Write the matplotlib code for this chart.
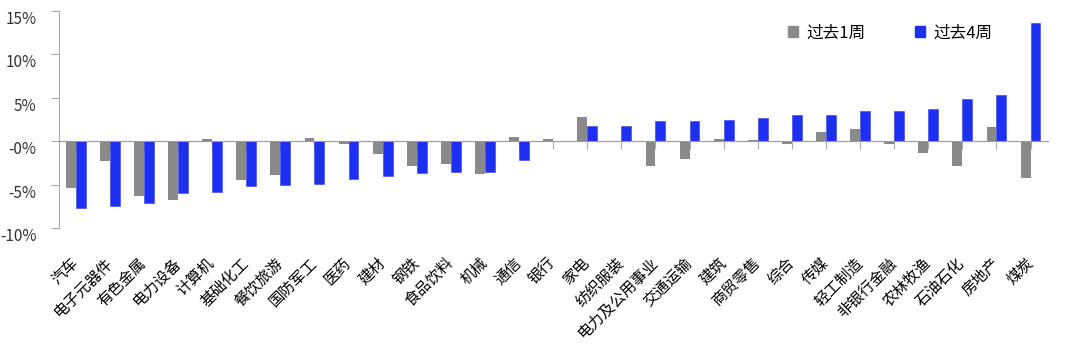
import matplotlib
matplotlib.use('Agg')
from matplotlib import pyplot as plt
from matplotlib.patches import Patch
import numpy as np

plt.rcParams['font.family'] = ['Noto Sans CJK SC', 'DejaVu Sans']

# 行业
industries = ['汽车', '电子元器件', '有色金属', '电力设备', '计算机', '基础化工', '餐饮旅游',
              '国防军工', '医药', '建材', '钢铁', '食品饮料', '机械', '通信', '银行', '家电',
              '纺织服装', '电力及公用事业', '交通运输', '建筑', '商贸零售', '综合', '传媒',
              '轻工制造', '非银行金融', '农林牧渔', '石油石化', '房地产', '煤炭']
# 过去1周 / 过去4周 涨跌幅 (%)
week1 = [-5.4, -2.3, -6.3, -6.8, 0.2, -4.5, -3.9, 0.35, -0.35, -1.5, -2.8, -2.6, -3.8,
         0.5, 0.27, 2.85, 0.05, -2.8, -2.0, 0.3, 0.1, -0.27, 1.07, 1.46, -0.35, -1.4,
         -2.8, 1.65, -4.2]
week4 = [-7.75, -7.5, -7.1, -5.95, -5.9, -5.15, -5.0, -4.9, -4.3, -4.0, -3.65, -3.6, -3.57,
         -2.2, 0.0, 1.8, 1.8, 2.3, 2.3, 2.4, 2.7, 3.0, 3.03, 3.46, 3.54, 3.7, 4.9, 5.3, 13.6]
yticks = [15, 10, 5, 0, -5, -10]
ytick_labels = ['15%', '10%', '5%', '-0%', '-5%', '-10%']

c1 = '#8a8a8a'
c4 = '#1c2ff2'

fig = plt.figure(figsize=(10.8, 3.47), dpi=100)
ax = fig.add_axes([0.0543, 0.343, 0.9157, 0.625])

x = np.arange(len(industries))
w = 0.29
ax.bar(x - w / 2, week1, width=w, color=c1, zorder=2)
ax.bar(x + w / 2, week4, width=w, color=c4, edgecolor='#3344dd', linewidth=0.4, zorder=2)

ax.set_xlim(-0.5, len(industries) - 0.5)
ax.set_ylim(-10, 15)

ax.spines['top'].set_visible(False)
ax.spines['right'].set_visible(False)
ax.spines['left'].set_color('#aaaaaa')
ax.spines['bottom'].set_position(('data', 0))
ax.spines['bottom'].set_color('#999999')
ax.spines['bottom'].set_zorder(3)

ax.set_yticks(yticks)
ax.set_yticklabels(ytick_labels, fontsize=11, color='#333333', va='top')
ax.tick_params(axis='y', length=6, color='#aaaaaa', pad=10)

ax.set_xticks(x)
ax.set_xticklabels(industries, fontsize=11, rotation=45, ha='right',
                   rotation_mode='anchor', va='center')
ax.tick_params(axis='x', length=6, color='#aaaaaa', pad=80)

handles = [Patch(color=c1), Patch(color=c4)]
ax.legend(handles, ['过去1周', '过去4周'], ncol=2, frameon=False, fontsize=12,
          loc='upper right', bbox_to_anchor=(0.958, 1.0), handlelength=0.6,
          handleheight=0.6, handletextpad=0.5, columnspacing=3.0, borderpad=0.3)

plt.savefig('out.png')
